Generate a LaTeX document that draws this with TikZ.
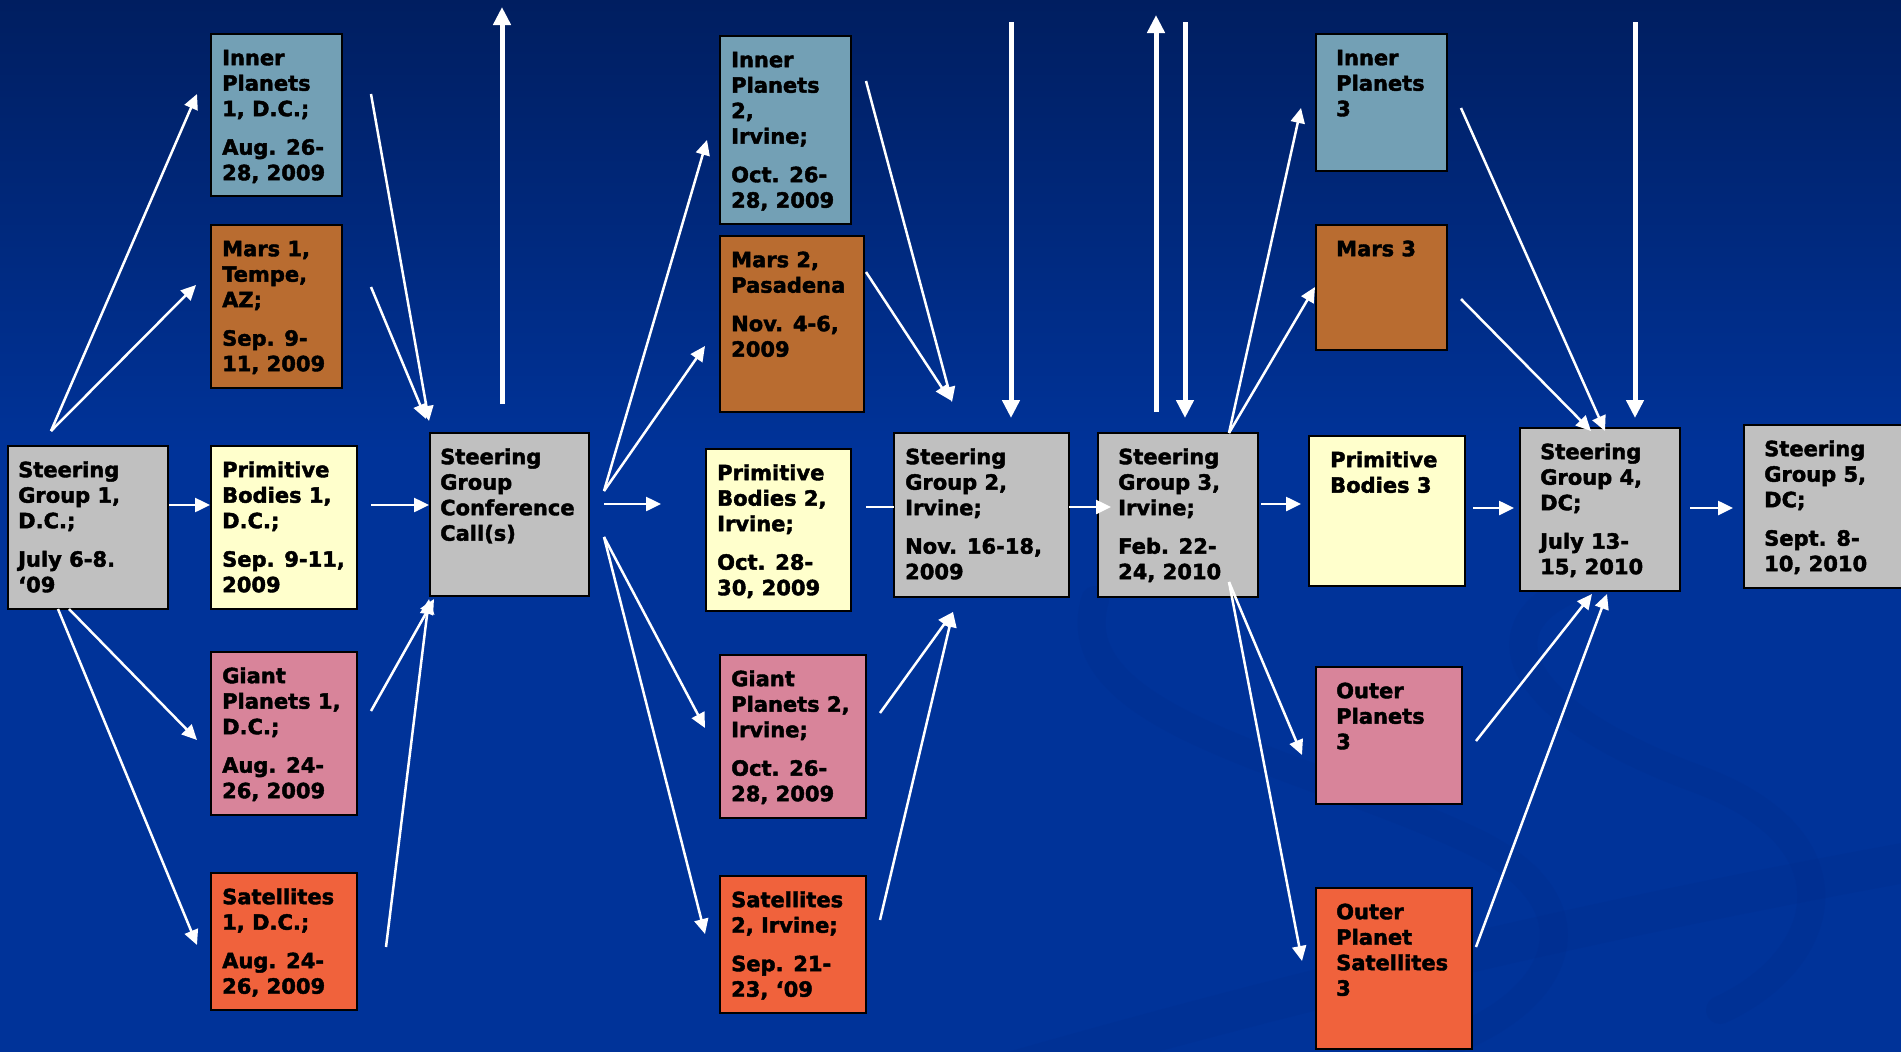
\documentclass[tikz,border=0pt]{standalone}
\usepackage{fontspec}
\setmainfont{DejaVu Sans}[BoldFeatures={FakeBold=2}]
\usetikzlibrary{arrows.meta}
\definecolor{bgtop}{RGB}{0,30,96}
\definecolor{bgmain}{RGB}{0,51,153}
\definecolor{swoosh}{RGB}{0,42,135}
\definecolor{cInner}{RGB}{115,160,181}
\definecolor{cMars}{RGB}{185,108,48}
\definecolor{cPrim}{RGB}{255,255,204}
\definecolor{cSteer}{RGB}{192,192,192}
\definecolor{cGiant}{RGB}{216,132,154}
\definecolor{cSat}{RGB}{240,98,60}
% name, colour, x1, y1, x2, y2, text inset, text
\newcommand\mkbox[8]{%
  \pgfmathsetmacro\bw{#5-#3}\pgfmathsetmacro\bh{#6-#4}%
  \node[box,fill=#2,anchor=north west,minimum width=\bw pt,minimum height=\bh pt] (#1) at (#3,#4) {};
  \node[lbl] (#1t) at (#3+#7,#4+14) {\rule{0pt}{17pt}#8};
}
\begin{document}
\begin{tikzpicture}[x=1pt,y=-1pt,
  box/.style={draw=black,line width=2pt,inner sep=0pt,outer sep=0pt},
  lbl/.style={anchor=north west,inner sep=0pt,align=left,text=black,font=\bfseries\fontsize{21}{25.5}\selectfont},
  conn/.style={draw=white,line width=2.5pt,-{Triangle[length=15pt,width=14pt]}},
  bigconn/.style={draw=white,line width=5pt,-{Triangle[length=18pt,width=17pt]}},
  plainline/.style={draw=white,line width=2.5pt}]
\useasboundingbox (0,0) rectangle (1901,1052);
% background
\fill[bgmain] (0,0) rectangle (1901,1052);
\shade[top color=bgtop,bottom color=bgmain] (0,0) rectangle (1901,450);
\begin{scope}[opacity=0.18]
\draw[swoosh,line width=28pt,line cap=round] (1095,600) .. controls (1060,720) and (1300,760) .. (1470,840) .. controls (1600,900) and (1570,1000) .. (1440,1045);
\draw[swoosh,line width=28pt,line cap=round] (1620,575) .. controls (1480,600) and (1480,700) .. (1700,780) .. controls (1860,840) and (1830,960) .. (1720,1010);
\draw[swoosh,line width=40pt] (1000,1075) .. controls (1400,960) and (1700,900) .. (1920,860);
\end{scope}
% boxes
\mkbox{sgone}{cSteer}{8}{446}{168}{609}{10}{Steering\\Group 1,\\D.C.;\\[13pt]July 6-8.\\‘09}
\mkbox{ipone}{cInner}{211}{34}{342}{196}{11}{Inner\\Planets\\1, D.C.;\\[13pt]Aug. 26-\\28, 2009}
\mkbox{maone}{cMars}{211}{225}{342}{388}{11}{Mars 1,\\Tempe,\\AZ;\\[13pt]Sep. 9-\\11, 2009}
\mkbox{pbone}{cPrim}{211}{446}{357}{609}{11}{Primitive\\Bodies 1,\\D.C.;\\[13pt]Sep. 9-11,\\2009}
\mkbox{gpone}{cGiant}{211}{652}{357}{815}{11}{Giant\\Planets 1,\\D.C.;\\[13pt]Aug. 24-\\26, 2009}
\mkbox{saone}{cSat}{211}{873}{357}{1010}{11}{Satellites\\1, D.C.;\\[13pt]Aug. 24-\\26, 2009}
\mkbox{conf}{cSteer}{430}{433}{589}{596}{10}{Steering\\Group\\Conference\\Call(s)}
\mkbox{iptwo}{cInner}{720}{36}{851}{224}{11}{Inner\\Planets\\2,\\Irvine;\\[13pt]Oct. 26-\\28, 2009}
\mkbox{matwo}{cMars}{720}{236}{864}{412}{11}{Mars 2,\\Pasadena\\[13pt]Nov. 4-6,\\2009}
\mkbox{pbtwo}{cPrim}{706}{449}{851}{611}{11}{Primitive\\Bodies 2,\\Irvine;\\[13pt]Oct. 28-\\30, 2009}
\mkbox{gptwo}{cGiant}{720}{655}{866}{818}{11}{Giant\\Planets 2,\\Irvine;\\[13pt]Oct. 26-\\28, 2009}
\mkbox{satwo}{cSat}{720}{876}{866}{1013}{11}{Satellites\\2, Irvine;\\[13pt]Sep. 21-\\23, ‘09}
\mkbox{sgtwo}{cSteer}{894}{433}{1069}{597}{11}{Steering\\Group 2,\\Irvine;\\[13pt]Nov. 16-18,\\2009}
\mkbox{sgthree}{cSteer}{1098}{433}{1258}{597}{20}{Steering\\Group 3,\\Irvine;\\[13pt]Feb. 22-\\24, 2010}
\mkbox{ipthree}{cInner}{1316}{34}{1447}{171}{20}{Inner\\Planets\\3}
\mkbox{mathree}{cMars}{1316}{225}{1447}{350}{20}{Mars 3}
\mkbox{pbthree}{cPrim}{1309}{436}{1465}{586}{21}{Primitive\\Bodies 3}
\mkbox{opthree}{cGiant}{1316}{667}{1462}{804}{20}{Outer\\Planets\\3}
\mkbox{opsthree}{cSat}{1316}{888}{1472}{1049}{20}{Outer\\Planet\\Satellites\\3}
\mkbox{sgfour}{cSteer}{1520}{428}{1680}{591}{20}{Steering\\Group 4,\\DC;\\[13pt]July 13-\\15, 2010}
\mkbox{sgfive}{cSteer}{1744}{425}{1912}{588}{20}{Steering\\Group 5,\\DC;\\[13pt]Sept. 8-\\10, 2010}
% connector end points
\coordinate (sgoneTop) at (51,431);
\coordinate (iponeIn) at (197,94);
\coordinate (maoneIn) at (196,285);
\coordinate (sgoneR) at (169,505);
\coordinate (pboneIn) at (210,505);
\coordinate (sgoneBa) at (69,609);
\coordinate (sgoneBb) at (58,609);
\coordinate (gponeIn) at (197,740);
\coordinate (saoneIn) at (197,945);
\coordinate (iponeOut) at (371,94);
\coordinate (maoneOut) at (371,287);
\coordinate (pboneOut) at (371,505);
\coordinate (gponeOut) at (371,711);
\coordinate (saoneOut) at (386,947);
\coordinate (confInA) at (429,421);
\coordinate (confInB) at (426,419);
\coordinate (confInC) at (429,505);
\coordinate (confInD) at (434,599);
\coordinate (confInE) at (429,599);
\coordinate (confUpS) at (502,404);
\coordinate (confUpE) at (502,7);
\coordinate (confR) at (604,504);
\coordinate (confRE) at (661,504);
\coordinate (confFanU) at (604,491);
\coordinate (confFanD) at (604,537);
\coordinate (iptwoIn) at (707,140);
\coordinate (matwoIn) at (705,346);
\coordinate (gptwoIn) at (705,728);
\coordinate (satwoIn) at (705,934);
\coordinate (iptwoOut) at (866,81);
\coordinate (matwoOut) at (866,272);
\coordinate (pbtwoOut) at (866,507);
\coordinate (gptwoOut) at (880,713);
\coordinate (satwoOut) at (880,920);
\coordinate (sgtwoInA) at (952,402);
\coordinate (sgtwoInB) at (950,400);
\coordinate (sgtwoInC) at (894,507);
\coordinate (sgtwoInD) at (953,612);
\coordinate (sgtwoDnS) at (1011,22);
\coordinate (sgtwoDnE) at (1011,418);
\coordinate (sgthreeUpS) at (1156,412);
\coordinate (sgthreeUpE) at (1156,15);
\coordinate (sgthreeDnS) at (1185,22);
\coordinate (sgthreeDnE) at (1185,418);
\coordinate (sgtwoR) at (1069,507);
\coordinate (sgthreeIn) at (1111,507);
\coordinate (sgthreeTop) at (1229,433);
\coordinate (sgthreeBot) at (1229,582);
\coordinate (sgthreeR) at (1261,504);
\coordinate (ipthreeIn) at (1301,108);
\coordinate (mathreeIn) at (1315,287);
\coordinate (pbthreeIn) at (1301,504);
\coordinate (opthreeIn) at (1302,755);
\coordinate (opsthreeIn) at (1302,961);
\coordinate (ipthreeOut) at (1461,108);
\coordinate (mathreeOut) at (1461,299);
\coordinate (pbthreeOut) at (1473,508);
\coordinate (opthreeOut) at (1476,741);
\coordinate (opsthreeOut) at (1476,947);
\coordinate (sgfourInA) at (1605,431);
\coordinate (sgfourInB) at (1591,431);
\coordinate (sgfourInC) at (1514,508);
\coordinate (sgfourInD) at (1592,594);
\coordinate (sgfourInE) at (1607,594);
\coordinate (sgfourDnS) at (1635,22);
\coordinate (sgfourDnE) at (1635,418);
\coordinate (sgfourR) at (1690,508);
\coordinate (sgfiveIn) at (1733,508);
% connectors
\draw[conn] (sgoneTop) -- (iponeIn);
\draw[conn] (sgoneTop) -- (maoneIn);
\draw[conn] (sgoneR) -- (pboneIn);
\draw[conn] (sgoneBa) -- (gponeIn);
\draw[conn] (sgoneBb) -- (saoneIn);
\draw[conn] (iponeOut) -- (confInA);
\draw[conn] (maoneOut) -- (confInB);
\draw[conn] (pboneOut) -- (confInC);
\draw[conn] (gponeOut) -- (confInD);
\draw[conn] (saoneOut) -- (confInE);
\draw[bigconn] (confUpS) -- (confUpE);
\draw[conn] (confR) -- (confRE);
\draw[conn] (confFanU) -- (iptwoIn);
\draw[conn] (confFanU) -- (matwoIn);
\draw[conn] (confFanD) -- (gptwoIn);
\draw[conn] (confFanD) -- (satwoIn);
\draw[conn] (iptwoOut) -- (sgtwoInA);
\draw[conn] (matwoOut) -- (sgtwoInB);
\draw[plainline] (pbtwoOut) -- (sgtwoInC);
\draw[conn] (gptwoOut) -- (sgtwoInD);
\draw[conn] (satwoOut) -- (sgtwoInD);
\draw[bigconn] (sgtwoDnS) -- (sgtwoDnE);
\draw[bigconn] (sgthreeUpS) -- (sgthreeUpE);
\draw[bigconn] (sgthreeDnS) -- (sgthreeDnE);
\draw[conn] (sgtwoR) -- (sgthreeIn);
\draw[conn] (sgthreeTop) -- (ipthreeIn);
\draw[conn] (sgthreeTop) -- (mathreeIn);
\draw[conn] (sgthreeR) -- (pbthreeIn);
\draw[conn] (sgthreeBot) -- (opthreeIn);
\draw[conn] (sgthreeBot) -- (opsthreeIn);
\draw[conn] (ipthreeOut) -- (sgfourInA);
\draw[conn] (mathreeOut) -- (sgfourInB);
\draw[conn] (pbthreeOut) -- (sgfourInC);
\draw[conn] (opthreeOut) -- (sgfourInD);
\draw[conn] (opsthreeOut) -- (sgfourInE);
\draw[bigconn] (sgfourDnS) -- (sgfourDnE);
\draw[conn] (sgfourR) -- (sgfiveIn);
\end{tikzpicture}
\end{document}
